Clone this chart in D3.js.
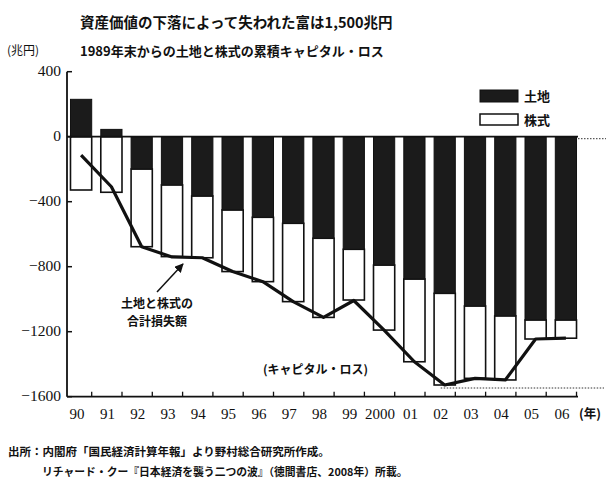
<!DOCTYPE html>
<html>
<head>
<meta charset="utf-8">
<script src="https://cdn.jsdelivr.net/npm/d3@7"></script>
<style>
body { margin: 0; background: #fff; }
</style>
</head>
<body>
<svg id="chart" width="612" height="496"></svg>
<script>
// 年 (1990〜2006)
var years = ["90","91","92","93","94","95","96","97","98","99","2000","01","02","03","04","05","06"];
// 土地の累積キャピタル・ロス (兆円)
var land = [230, 45, -199, -297, -365, -451, -496, -533, -625, -693, -790, -876, -964, -1042, -1103, -1128, -1128];
// 株式の累積キャピタル・ロス (兆円)
var stock = [-328, -342, -478, -441, -380, -379, -396, -482, -487, -312, -400, -509, -564, -445, -394, -117, -112];
// 土地と株式の合計損失額 (折れ線)
var total = [-113, -308, -677, -740, -745, -830, -892, -1015, -1112, -1008, -1190, -1385, -1528, -1487, -1497, -1245, -1240];
var yTicks = [400, 0, -400, -800, -1200, -1600];

var jp = "'Noto Sans CJK JP', sans-serif";
var serif = "'Liberation Serif', 'DejaVu Serif', serif";

var svg = d3.select("#chart");

var y = d3.scaleLinear()
    .domain([-1600, 400])
    .range([396.7, 71.7]);

var x = d3.scaleBand()
    .domain(years)
    .range([67, 580])
    .paddingInner(0.3)
    .paddingOuter(0.115);

var bw = x.bandwidth();

function label(tx, ty, str, size, bold, anchor, family) {
    return svg.append("text")
        .attr("x", tx).attr("y", ty)
        .style("font-family", family || jp)
        .style("font-size", size + "px")
        .style("font-weight", bold ? "bold" : "normal")
        .style("text-anchor", anchor || "start")
        .style("fill", "#111")
        .text(str);
}

// 棒グラフ
var bars = svg.append("g");
years.forEach(function(d, i) {
    var l = land[i];
    var start = l < 0 ? l : 0;
    var end = start + stock[i];
    // 株式 (白)
    bars.append("rect")
        .attr("x", x(d))
        .attr("y", y(start))
        .attr("width", bw)
        .attr("height", y(end) - y(start))
        .style("fill", "#fff")
        .style("stroke", "#111")
        .style("stroke-width", 1.6);
    // 土地 (黒)
    bars.append("rect")
        .attr("x", x(d))
        .attr("y", y(Math.max(l, 0)))
        .attr("width", bw)
        .attr("height", Math.abs(y(l) - y(0)))
        .style("fill", "#1b1b1b")
        .style("stroke", "#111")
        .style("stroke-width", 1);
});

// ゼロ線
svg.append("line")
    .attr("x1", 67).attr("x2", 578)
    .attr("y1", y(0)).attr("y2", y(0))
    .style("stroke", "#111").style("stroke-width", 1.8);
svg.append("line")
    .attr("x1", 578).attr("x2", 606)
    .attr("y1", y(0) + 2).attr("y2", y(0) + 2)
    .style("stroke", "#333").style("stroke-width", 1)
    .style("stroke-dasharray", "1.5,1.5");

// 最低点の点線
var minTotal = d3.min(total);
var minIdx = total.indexOf(minTotal);
svg.append("line")
    .attr("x1", x(years[minIdx]) + bw / 2 - 4).attr("x2", 604)
    .attr("y1", y(minTotal) + 3).attr("y2", y(minTotal) + 3)
    .style("stroke", "#333").style("stroke-width", 1)
    .style("stroke-dasharray", "1.5,1.5");

// 合計損失額の折れ線
var line = d3.line()
    .x(function(d, i) { return x(years[i]) + bw / 2; })
    .y(function(d) { return y(d); });

svg.append("path")
    .attr("d", line(total))
    .style("fill", "none")
    .style("stroke", "#111")
    .style("stroke-width", 3.2)
    .style("stroke-linejoin", "round");

// Y軸
svg.append("line")
    .attr("x1", 67).attr("x2", 67)
    .attr("y1", y(400)).attr("y2", y(-1600))
    .style("stroke", "#111").style("stroke-width", 1.8);

svg.selectAll(".ytick")
    .data(yTicks).enter()
    .append("line")
    .attr("x1", 67).attr("x2", 72)
    .attr("y1", function(d) { return y(d); })
    .attr("y2", function(d) { return y(d); })
    .style("stroke", "#111").style("stroke-width", 1.5);

yTicks.forEach(function(d) {
    label(61, y(d) + 4, d < 0 ? "\u2212" + Math.abs(d) : d, 15.5, false, "end", serif);
});

// X軸
svg.append("line")
    .attr("x1", 67).attr("x2", 578)
    .attr("y1", y(-1600)).attr("y2", y(-1600))
    .style("stroke", "#111").style("stroke-width", 1.8);

svg.selectAll(".xtick")
    .data(years).enter()
    .append("line")
    .attr("x1", function(d) { return x(d) + bw; })
    .attr("x2", function(d) { return x(d) + bw; })
    .attr("y1", y(-1600)).attr("y2", y(-1600) - 5)
    .style("stroke", "#111").style("stroke-width", 1.3);

years.forEach(function(d) {
    label(x(d) + bw / 2 - 4, 419, d, 15, false, "middle", serif);
});
label(590, 418, "(年)", 12.5, true, "middle");

// タイトル
label(80, 28, "資産価値の下落によって失われた富は1,500兆円", 14.5, true);
label(80, 56, "1989年末からの土地と株式の累積キャピタル・ロス", 13, true);
label(7, 55, "(兆円)", 12, false);

// 凡例
svg.append("rect")
    .attr("x", 480).attr("y", 90).attr("width", 38).attr("height", 12)
    .style("fill", "#1b1b1b").style("stroke", "#111");
label(524, 101, "土地", 13, true);
svg.append("rect")
    .attr("x", 480).attr("y", 114).attr("width", 38).attr("height", 11)
    .style("fill", "#fff").style("stroke", "#111").style("stroke-width", 1.5);
label(524, 125, "株式", 13, true);

// 注記
svg.append("defs").append("marker")
    .attr("id", "arrow")
    .attr("viewBox", "0 0 10 10")
    .attr("refX", 9).attr("refY", 5)
    .attr("markerWidth", 6).attr("markerHeight", 6)
    .attr("orient", "auto")
    .append("path")
    .attr("d", "M0,0 L10,5 L0,10 z")
    .style("fill", "#111");

svg.append("line")
    .attr("x1", 157).attr("y1", 292)
    .attr("x2", 183).attr("y2", 264)
    .style("stroke", "#111").style("stroke-width", 1.5)
    .attr("marker-end", "url(#arrow)");

label(157, 308, "土地と株式の", 12, true, "middle");
label(157, 326, "合計損失額", 12, true, "middle");
label(263, 374, "(キャピタル・ロス)", 12, true);

// 出所
label(8, 456, "出所：内閣府「国民経済計算年報」より野村総合研究所作成。", 11.5, true);
label(42, 476, "リチャード・クー『日本経済を襲う二つの波』（徳間書店、2008年）所載。", 10.8, true);
</script>
</body>
</html>
